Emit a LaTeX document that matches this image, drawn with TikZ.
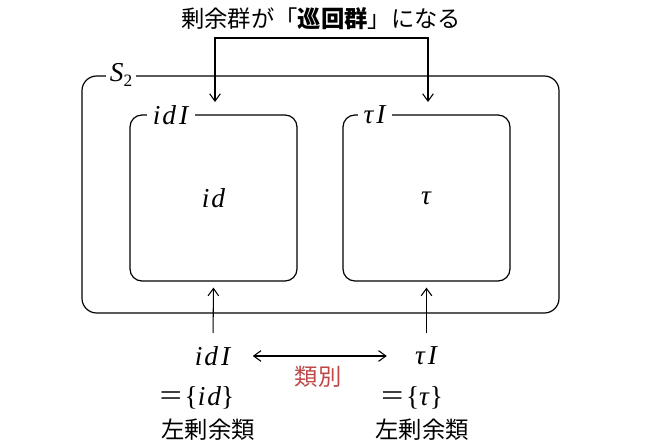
\documentclass[tikz,border=0pt]{standalone}
\usepackage{fontspec}
\setmainfont{Liberation Serif}
\newfontfamily\jp{Noto Sans CJK JP}
\usetikzlibrary{arrows.meta}
\definecolor{labred}{RGB}{190,70,70}
\newcommand\idI{\textit{i\kern1.5pt d\kern2.2pt I}}
\newcommand\idx{\textit{i\kern1.5pt d}}
\newcommand\tauI{\textit{τ\kern2.2pt I}}
\newcommand\bigeq{\scalebox{1.45}[1.1]{=}}
\begin{document}
\begin{tikzpicture}[x=0.75pt,y=-0.75pt,
  box/.style={draw, line width=0.9pt, rounded corners=9pt, minimum width=125.25pt, minimum height=124.5pt, inner sep=0pt},
  outerbox/.style={draw, line width=0.9pt, rounded corners=11pt, minimum width=357.75pt, minimum height=177.75pt, inner sep=0pt},
  lab/.style={fill=white, inner xsep=4pt, inner ysep=1pt},
  mtxt/.style={font=\fontsize{20.5}{22}\selectfont},
  jtxt/.style={font=\jp\fontsize{17.5}{20}\selectfont},
  arr/.style={-{Straight Barb[length=5.5pt,width=8pt]}, line width=0.8pt},
  darr/.style={{Straight Barb[length=5.5pt,width=8pt]}-{Straight Barb[length=5.5pt,width=8pt]}, line width=0.8pt}]
\useasboundingbox (0,0) rectangle (647,446);
% outer box
\node[outerbox] (S) at (320.5,194.5) {};
\node[lab, mtxt, inner xsep=3pt] (Slab) at (121,75) {\textit{S}\raisebox{-4pt}{\fontsize{13}{13}\selectfont 2}};
% inner boxes
\node[box, mtxt] (idbox) at (213.5,198) {\idx};
\node[box, mtxt] (taubox) at (426.5,198) {\textit{τ}};
\node[lab, mtxt] (idlab) at (171,115) {\idI};
\node[lab, mtxt] (taulab) at (375,115) {\tauI};
% top text and connector
\node[jtxt] (ttl) at (321,19) {剰余群が「{\bfseries 巡回群}」になる};
\coordinate (ta) at (215,102);
\coordinate (tb) at (428,102);
\coordinate (tm) at (321,38);
\draw[darr] (ta) |- (tm) -| (tb);
% bottom
\node[mtxt, inner sep=2pt] (bid) at (213,356) {\idI};
\node[mtxt, inner sep=2pt] (btau) at (426.5,356) {\tauI};
\draw[arr, shorten <=8pt, shorten >=4.5pt] (bid.north) -- (idbox.south);
\draw[arr, shorten <=8pt, shorten >=4.5pt] (btau.north) -- (taubox.south);
\draw[darr, shorten <=14pt, shorten >=19pt] (bid.east) -- (btau.west);
\node[jtxt, text=labred] (rui) at (318,377) {類別};
\node[mtxt] (eqid) at (197,398) {\bigeq\kern2pt\{\idx\}};
\node[mtxt] (eqtau) at (412,398) {\bigeq\kern2pt\{\textit{τ}\}};
\node[jtxt] (l1) at (208,430) {左剰余類};
\node[jtxt] (l2) at (422,430) {左剰余類};
\end{tikzpicture}
\end{document}
